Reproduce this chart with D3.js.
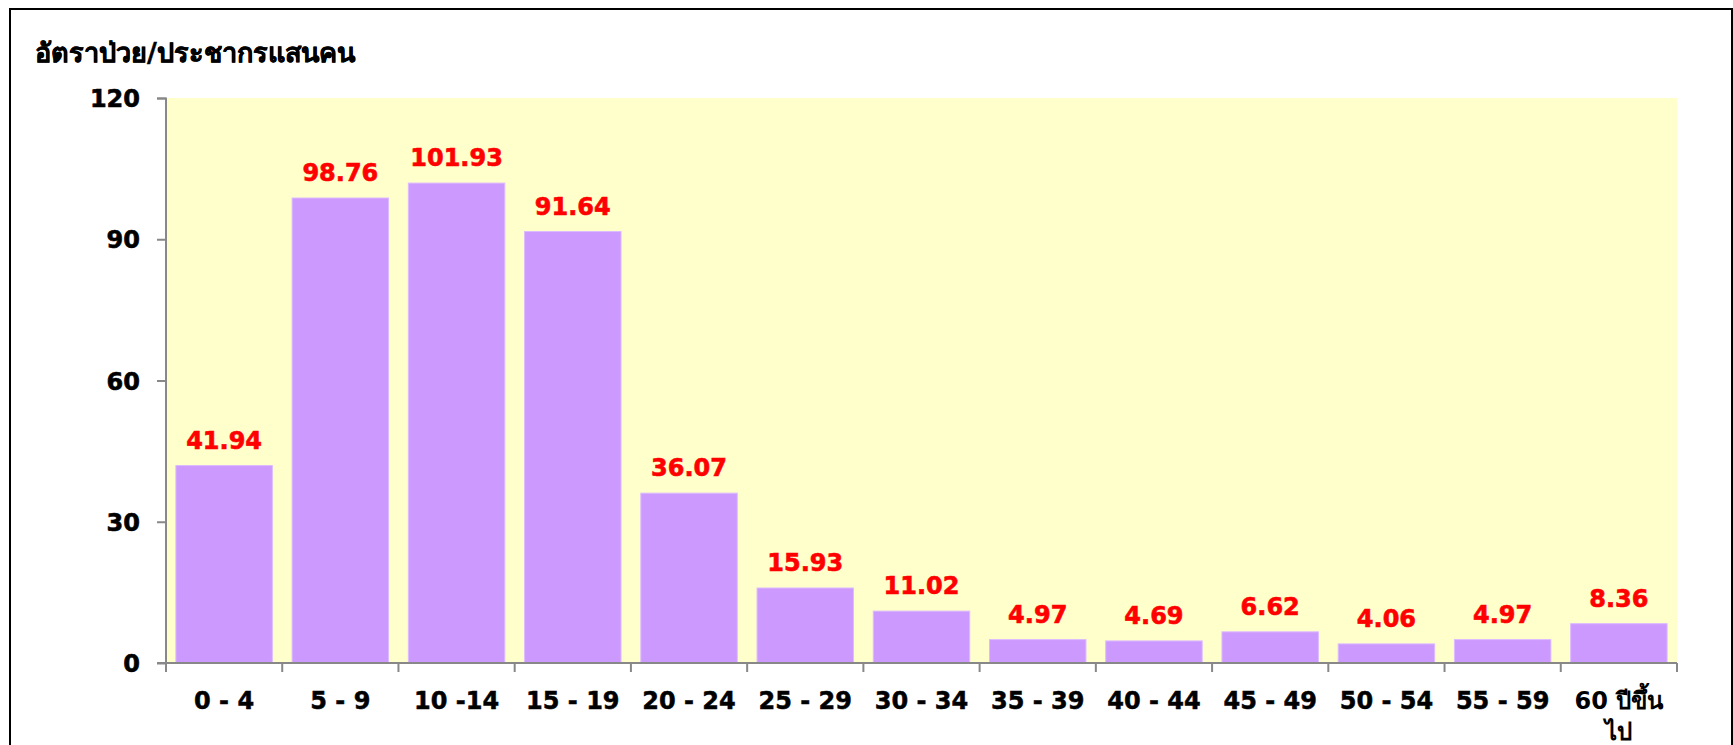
<!DOCTYPE html>
<html>
<head>
<meta charset="utf-8">
<script src="https://cdn.jsdelivr.net/npm/d3@7"></script>
<style>
	html, body { margin: 0; padding: 0; background: #fff; }
	svg { display: block; }
	text { paint-order: stroke; }
</style>
</head>
<body>
<div id="chart"></div>
<script>
const categories = ["0 - 4", "5 - 9", "10 -14", "15 - 19", "20 - 24", "25 - 29", "30 - 34",
	"35 - 39", "40 - 44", "45 - 49", "50 - 54", "55 - 59", "60 ปีขึ้น\nไป"];
const rates = [41.94, 98.76, 101.93, 91.64, 36.07, 15.93, 11.02, 4.97, 4.69, 6.62, 4.06, 4.97, 8.36];
const yTicks = [0, 30, 60, 90, 120];
const yTitle = "อัตราป่วย/ประชากรแสนคน";

const width = 1733;
const height = 745;
const margin = { top: 98, right: 56, bottom: 82, left: 166 };
const font = "Tahoma, 'DejaVu Sans', Verdana, sans-serif";
const thai = /[\u0E00-\u0E7F]/;

const svg = d3.select("#chart").append("svg")
	.attr("width", width)
	.attr("height", height);

// outer frame
svg.append("rect")
	.attr("x", 10)
	.attr("y", 9)
	.attr("width", width - 11)
	.attr("height", height + 20)
	.attr("fill", "none")
	.attr("stroke", "#000")
	.attr("stroke-width", 2);

const plotW = width - margin.left - margin.right;
const plotH = height - margin.top - margin.bottom;

const g = svg.append("g")
	.attr("transform", `translate(${margin.left},${margin.top})`);

g.append("rect")
	.attr("width", plotW)
	.attr("height", plotH)
	.attr("fill", "#FFFFCC");

const x = d3.scaleBand()
	.domain(categories)
	.range([0, plotW])
	.paddingInner(0.17)
	.paddingOuter(0.085);

const y = d3.scaleLinear()
	.domain([0, 120])
	.range([plotH, 0]);

const step = plotW / categories.length;

// bold text helper: thicken a little, the originals were heavy Tahoma
function boldText(sel, color, size, thick) {
	sel.attr("fill", color)
		.attr("stroke", color)
		.attr("stroke-width", thick === undefined ? 0.6 : thick)
		.style("font-family", font)
		.style("font-weight", "bold")
		.style("font-size", size + "px");
}

g.append("g")
	.attr("class", "bars")
	.selectAll("rect")
	.data(rates)
	.enter().append("rect")
		.attr("x", (d, i) => x(categories[i]))
		.attr("y", d => y(d))
		.attr("width", x.bandwidth())
		.attr("height", d => plotH - y(d))
		.attr("fill", "#CC99FF")
		.attr("stroke", "#DDBBFF")
		.attr("stroke-width", 1);

g.append("g")
	.attr("class", "labels")
	.selectAll("text")
	.data(rates)
	.enter().append("text")
		.attr("x", (d, i) => x(categories[i]) + x.bandwidth() / 2)
		.attr("y", d => y(d) - 17)
		.attr("text-anchor", "middle")
		.call(boldText, "#FF0000", 24)
		.text(d => d.toFixed(2));

// y axis
const yAxis = g.append("g")
	.call(d3.axisLeft(y).tickValues(yTicks).tickSize(9).tickPadding(17).tickFormat(d3.format("d")));
yAxis.selectAll("path, line").attr("stroke", "#888").attr("stroke-width", 2);
yAxis.select(".domain").attr("d", `M-9,0.5H0V${plotH}`);
yAxis.selectAll("text")
	.attr("dy", "0.36em")
	.call(boldText, "#000", 24);

// x axis with ticks on category boundaries
const xAxis = g.append("g")
	.attr("transform", `translate(0,${plotH})`);
xAxis.append("line")
	.attr("x1", -9)
	.attr("x2", plotW)
	.attr("stroke", "#888")
	.attr("stroke-width", 2);
xAxis.selectAll(".tick")
	.data(d3.range(categories.length + 1))
	.enter().append("line")
		.attr("class", "tick")
		.attr("x1", i => i * step)
		.attr("x2", i => i * step)
		.attr("y1", 0)
		.attr("y2", 9)
		.attr("stroke", "#888")
		.attr("stroke-width", 2);

const xLabels = xAxis.selectAll(".xlabel")
	.data(categories)
	.enter().append("text")
		.attr("class", "xlabel")
		.attr("x", d => x(d) + x.bandwidth() / 2)
		.attr("y", 46)
		.attr("text-anchor", "middle")
		.call(boldText, "#000", 24, 0.5);
xLabels.each(function(d) {
	const lines = d.split("\n");
	const t = d3.select(this);
	lines.forEach((line, i) => {
		t.append("tspan")
			.attr("x", t.attr("x"))
			.attr("dy", i === 0 ? 0 : 31)
			.attr("stroke-width", thai.test(line) ? 0 : null)
			.text(line);
	});
});

// axis title
svg.append("text")
	.attr("x", 35)
	.attr("y", 62)
	.call(boldText, "#000", 27, 0.4)
	.text(yTitle);
</script>
</body>
</html>
